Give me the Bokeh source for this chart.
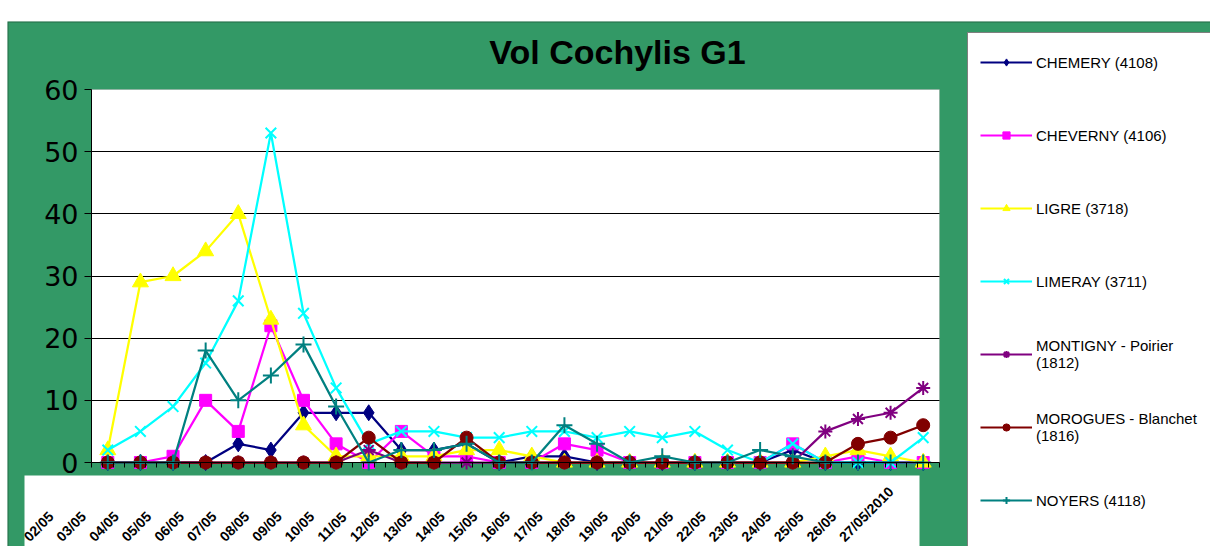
import math
from bokeh.plotting import figure
from bokeh.models import (Range1d, FixedTicker, ColumnDataSource, Legend, LegendItem,
                          Label, LabelSet, BoxAnnotation, Spacer, Grid)
from bokeh.layouts import column, row
from bokeh.embed import file_html
from bokeh.resources import INLINE
from bokeh.core.properties import value

# ---------------- data ----------------
dates = ["02/05", "03/05", "04/05", "05/05", "06/05", "07/05", "08/05", "09/05",
         "10/05", "11/05", "12/05", "13/05", "14/05", "15/05", "16/05", "17/05",
         "18/05", "19/05", "20/05", "21/05", "22/05", "23/05", "24/05", "25/05",
         "26/05", "27/05/2010"]

chemery  = [0, 0, 0, 0, 3, 2, 8, 8, 8, 2, 2, 3, 0, 1, 1, 0, 0, 0, 0, 0, 0, 2, 0, 0, 0, 0]
cheverny = [0, 0, 1, 10, 5, 22, 10, 3, 0, 5, 1, 1, 0, 0, 3, 2, 0, 0, 0, 0, 0, 3, 0, 1, 0, 0]
ligre    = [2, 29, 30, 34, 40, 23, 6, 1, 1, 1, 1, 2, 2, 1, 0, 0, 0, 0, 0, 0, 0, 0, 1, 2, 1, 0]
limeray  = [2, 5, 9, 16, 26, 53, 24, 12, 3, 5, 5, 4, 4, 5, 5, 4, 5, 4, 5, 2, 0, 3, 0, 0, 0, 4]
montigny = [0, 0, 0, 0, 0, 0, 0, 0, 2, 0, 0, 0, 0, 0, 0, 0, 0, 0, 0, 0, 0, 0, 5, 7, 8, 12]
morogues = [0, 0, 0, 0, 0, 0, 0, 0, 4, 0, 0, 4, 0, 0, 0, 0, 0, 0, 0, 0, 0, 0, 0, 3, 4, 6]
noyers   = [0, 0, 0, 18, 10, 14, 19, 9, 0, 2, 2, 3, 0, 0, 6, 3, 0, 1, 0, 0, 2, 1, 0, 0, 0, 0]

series_names = ["CHEMERY (4108)", "CHEVERNY (4106)", "LIGRE (3718)", "LIMERAY (3711)",
                "MONTIGNY - Poirier\n(1812)", "MOROGUES - Blanchet\n(1816)", "NOYERS (4118)"]
series_values = [chemery, cheverny, ligre, limeray, montigny, morogues, noyers]
y_ticks = [0, 10, 20, 30, 40, 50, 60]
title_text = "Vol Cochylis G1"

# ---------------- styles / layout ----------------
colors = ["#000080", "#FF00FF", "#FFFF00", "#00FFFF", "#800080", "#800000", "#008080"]
markers = ["diamond", "square", "triangle", "x", "asterisk", "circle", "cross"]
sizes = [16, 12, 16, 15, 14, 13, 16]
GREEN = "#339966"

n = len(dates)
xs = list(range(n))

W, H = 1203, 525                # figure size (placed at page 8, 22)
PL, PR, PT, PB = 84, 932, 68, 441   # plot area edges inside the figure (px)
x0, x1 = -0.5, n - 0.5
y0, y1 = y_ticks[0], y_ticks[-1]
xpx = (PR - PL) / (x1 - x0)
ypx = (PB - PT) / (y1 - y0)
xr = Range1d(x0 - PL / xpx, x1 + (W - PR) / xpx)
yr = Range1d(y0 - (H - PB) / ypx, y1 + PT / ypx)

def fx(px):  # figure px -> data x
    return x0 + (px - PL) / xpx

def fy(px):  # figure px (from top) -> data y
    return y0 + (PB - px) / ypx

p = figure(width=W, height=H, x_range=xr, y_range=yr, title=None,
           output_backend="svg", toolbar_location=None, min_border=0,
           border_fill_color=GREEN, background_fill_color=GREEN,
           outline_line_color=None)

# outer dark border of the chart area
p.add_layout(BoxAnnotation(left=xr.start, right=xr.end + 5, bottom=yr.start - 5, top=yr.end,
                           fill_alpha=0, line_color="black", line_width=2, level="image"))
# white plot area and white label area
p.add_layout(BoxAnnotation(left=x0, right=x1, bottom=y0, top=y1,
                           fill_color="white", fill_alpha=1,
                           line_color="#808080", line_width=1, level="image"))
p.add_layout(BoxAnnotation(left=fx(17), right=fx(912), top=fy(454), bottom=yr.start,
                           fill_color="white", fill_alpha=1, line_color=None, level="image"))

# axes at fixed locations (x axis: tick marks only, labels drawn below)
p.xaxis.fixed_location = y0
p.xaxis.bounds = (x0, x1)
p.xaxis.ticker = FixedTicker(ticks=[], minor_ticks=[x0 + k / 3 for k in range(3 * n + 1)])
p.xaxis.major_tick_line_color = None
p.xaxis.minor_tick_out = 5
p.xaxis.minor_tick_in = 0
p.xaxis.minor_tick_line_color = "black"
p.xaxis.axis_line_color = "black"

p.yaxis.fixed_location = x0
p.yaxis.bounds = (y0, y1)
p.yaxis.ticker = FixedTicker(ticks=y_ticks)
p.yaxis.major_tick_out = 7
p.yaxis.major_tick_in = 0
p.yaxis.minor_tick_line_color = None
p.yaxis.major_label_standoff = 6
p.yaxis.major_label_text_font = "DejaVu Sans"
p.yaxis.major_label_text_font_size = "27px"
p.yaxis.major_label_text_color = "black"
p.yaxis.axis_line_color = "black"

p.xgrid.visible = False
g = p.ygrid[0]
g.ticker = FixedTicker(ticks=y_ticks[1:-1])
g.grid_line_color = "black"
g.grid_line_alpha = 1
g.grid_line_width = 1
if "cross_bounds" in Grid.properties():
    g.cross_bounds = (x0, x1)
else:
    g.visible = False
    p.segment(x0=[x0] * 5, x1=[x1] * 5, y0=y_ticks[1:-1], y1=y_ticks[1:-1],
              line_color="black", line_width=1, level="underlay")

# series
nan = float("nan")
items = []
for name, vals, c, m, s in zip(series_names, series_values, colors, markers, sizes):
    src = ColumnDataSource(dict(x=xs, y=vals))
    lw = 2 if m in ("x", "asterisk", "cross") else 1
    p.line("x", "y", source=src, line_color=c, line_width=2.25)
    p.scatter("x", "y", source=src, marker=m, size=s, fill_color=c, line_color=c, line_width=lw)
    # small glyphs for the legend only (no visible data)
    lr = p.line(x=[0], y=[nan], line_color=c, line_width=2)
    sr = p.scatter(x=[0], y=[nan], marker=m, size=8, fill_color=c, line_color=c, line_width=lw)
    items.append(LegendItem(label=name, renderers=[lr, sr]))
# blank trailing legend row so the box runs past the bottom edge
blank = p.line(x=[0], y=[nan], line_alpha=0)
items.append(LegendItem(label=" ", renderers=[blank]))

# category labels (rotated)
lab_src = ColumnDataSource(dict(x=xs, y=[y0] * n, t=dates))
p.add_layout(LabelSet(x="x", y="y", text="t", source=lab_src, angle=math.pi / 4,
                      x_offset=-76, y_offset=-82, text_align="left", text_baseline="bottom",
                      text_font=value("Liberation Sans"), text_font_style="bold",
                      text_font_size="14px", text_color="black"))

# title
p.add_layout(Label(x=(x0 + x1) / 2, y=y1, x_offset=102, y_offset=38, text=title_text,
                   text_align="center", text_baseline="alphabetic", text_font="Liberation Sans",
                   text_font_style="bold", text_font_size="34px", text_color="black"))

PAD, IH, GH, SP = 12, 34, 18, 39
LEG_LEFT, LEG_TOP = 960, 13     # figure px
leg_h = 2 * PAD + len(items) * IH + (len(items) - 1) * SP
legend = Legend(items=items, location=(LEG_LEFT, H - LEG_TOP - leg_h), orientation="vertical",
                padding=PAD, spacing=SP, margin=0,
                glyph_width=52, glyph_height=GH, label_height=IH, label_width=230,
                label_standoff=4, label_text_font="Liberation Sans",
                label_text_font_size="15px", label_text_color="black",
                border_line_color="black", border_line_width=1,
                background_fill_color="white", background_fill_alpha=1)
p.add_layout(legend)

layout = column(Spacer(width=W, height=21), row(Spacer(width=7, height=H), p))
open("out.html", "w").write(file_html(layout, INLINE))
